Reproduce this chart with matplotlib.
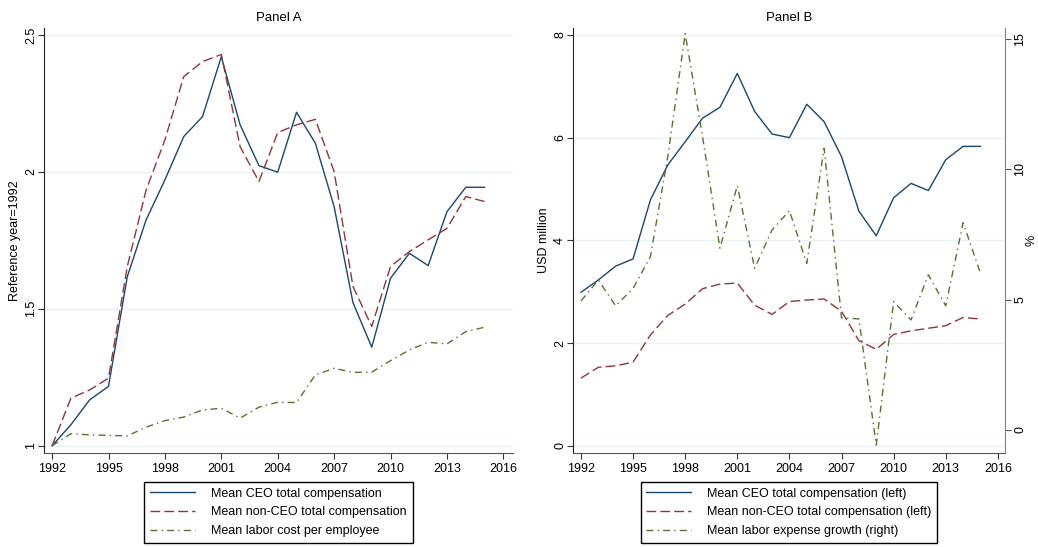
import matplotlib
matplotlib.use('Agg')
import matplotlib.pyplot as plt

plt.rcParams['font.family'] = ['Liberation Sans', 'DejaVu Sans']
plt.rcParams['font.size'] = 9

years = list(range(1992, 2016))

# Panel A: index, 1992 = 1
ceo_idx = [1.0, 1.077, 1.168, 1.217, 1.618, 1.825, 1.971, 2.129, 2.202, 2.421,
           2.172, 2.023, 1.999, 2.218, 2.105, 1.873, 1.523, 1.360, 1.612, 1.703,
           1.658, 1.855, 1.944, 1.944]
nonceo_idx = [1.0, 1.174, 1.204, 1.247, 1.655, 1.934, 2.117, 2.348, 2.403, 2.429,
              2.092, 1.965, 2.144, 2.172, 2.192, 2.001, 1.582, 1.436, 1.655, 1.709,
              1.752, 1.794, 1.910, 1.892]
labor_idx = [1.0, 1.044, 1.040, 1.038, 1.036, 1.068, 1.092, 1.105, 1.131, 1.137,
             1.101, 1.141, 1.159, 1.158, 1.259, 1.283, 1.268, 1.269, 1.311, 1.350,
             1.378, 1.372, 1.417, 1.433]

# Panel B: USD million (left) and % growth (right)
ceo_usd = [2.99, 3.23, 3.50, 3.64, 4.79, 5.47, 5.92, 6.38, 6.59, 7.25,
           6.51, 6.07, 6.00, 6.65, 6.31, 5.63, 4.57, 4.09, 4.83, 5.11,
           4.97, 5.57, 5.83, 5.83]
nonceo_usd = [1.32, 1.53, 1.56, 1.63, 2.16, 2.54, 2.76, 3.06, 3.15, 3.17,
              2.74, 2.56, 2.81, 2.84, 2.86, 2.62, 2.05, 1.88, 2.17, 2.24,
              2.29, 2.34, 2.50, 2.47]
labor_growth = [4.95, 5.75, 4.76, 5.43, 6.65, 10.49, 15.2, 11.25, 6.97, 9.37,
                6.20, 7.67, 8.41, 6.39, 10.81, 4.30, 4.26, -0.58, 4.92, 4.22,
                5.95, 4.76, 7.95, 6.01]

xticks = list(range(1992, 2017, 3))

navy = '#1a476f'
maroon = '#90353b'
green = '#55752f'
gridc = '#eaf2f3'

fig = plt.figure(figsize=(10.38, 5.47), dpi=100)
axA = fig.add_axes([0.0424, 0.172, 0.4516, 0.777])
axB = fig.add_axes([0.552, 0.172, 0.416, 0.777])

leg_kw = dict(loc='upper center', borderaxespad=0, fancybox=False,
              edgecolor='black', handlelength=3.6, handletextpad=1.3,
              labelspacing=0.55, borderpad=0.45, framealpha=1, fontsize=9)


def style(ax):
    ax.set_xticks(xticks)
    ax.set_xlim(1991.57, 2016.5)
    ax.grid(axis='y', color=gridc, lw=1.0)
    ax.grid(axis='x', visible=False)
    ax.set_axisbelow(True)
    ax.spines['top'].set_visible(False)
    ax.spines['right'].set_visible(False)
    ax.spines['left'].set_color('#222222')
    ax.spines['bottom'].set_color('#555555')
    ax.tick_params(axis='both', direction='out', length=4, color='#333333')
    ax.tick_params(axis='y', pad=1)
    for lab in ax.get_yticklabels():
        lab.set_rotation(90)
        lab.set_va('center')


# Panel A
axA.plot(years, ceo_idx, color=navy, lw=1.0, label='Mean CEO total compensation')
axA.plot(years, nonceo_idx, color=maroon, lw=1.0, dashes=(7, 3),
         label='Mean non-CEO total compensation')
axA.plot(years, labor_idx, color=green, lw=1.0, dashes=(5, 3, 1, 3),
         label='Mean labor cost per employee')
axA.set_ylim(0.974, 2.526)
axA.set_yticks([1, 1.5, 2, 2.5])
axA.set_yticklabels(['1', '1.5', '2', '2.5'])
style(axA)
axA.set_ylabel('Reference year=1992', labelpad=3)
axA.set_title('Panel A', fontsize=9.5, pad=5)
axA.legend(bbox_to_anchor=(0.2683, 0.119), bbox_transform=fig.transFigure,
           **leg_kw)

# Panel B
lb1, = axB.plot(years, ceo_usd, color=navy, lw=1.0,
                label='Mean CEO total compensation (left)')
lb2, = axB.plot(years, nonceo_usd, color=maroon, lw=1.0, dashes=(7, 3),
                label='Mean non-CEO total compensation (left)')
axB.set_ylim(-0.136, 8.136)
axB.set_yticks([0, 2, 4, 6, 8])
axB.set_yticklabels(['0', '2', '4', '6', '8'])
style(axB)
axB.set_xlim(1991.54, 2016.4)
axB.set_ylabel('USD million', labelpad=3)
axB.set_title('Panel B', fontsize=9.5, pad=5)

axB2 = axB.twinx()
lb3, = axB2.plot(years, labor_growth, color=green, lw=1.0, dashes=(5, 3, 1, 3),
                 label='Mean labor expense growth (right)')
axB2.set_ylim(-0.88, 15.42)
axB2.set_yticks([0, 5, 10, 15])
axB2.set_yticklabels(['0', '5', '10', '15'])
for s in ['top', 'left', 'bottom']:
    axB2.spines[s].set_visible(False)
axB2.spines['right'].set_color('#808080')
axB2.tick_params(axis='y', direction='out', length=4, color='#555555', pad=3)
for lab in axB2.get_yticklabels():
    lab.set_rotation(90)
    lab.set_va('center')
axB2.set_ylabel('%', rotation=90, labelpad=-1)
axB2.legend(handles=[lb1, lb2, lb3], bbox_to_anchor=(0.7601, 0.119),
            bbox_transform=fig.transFigure, **leg_kw)

fig.savefig('out.png', dpi=100)
